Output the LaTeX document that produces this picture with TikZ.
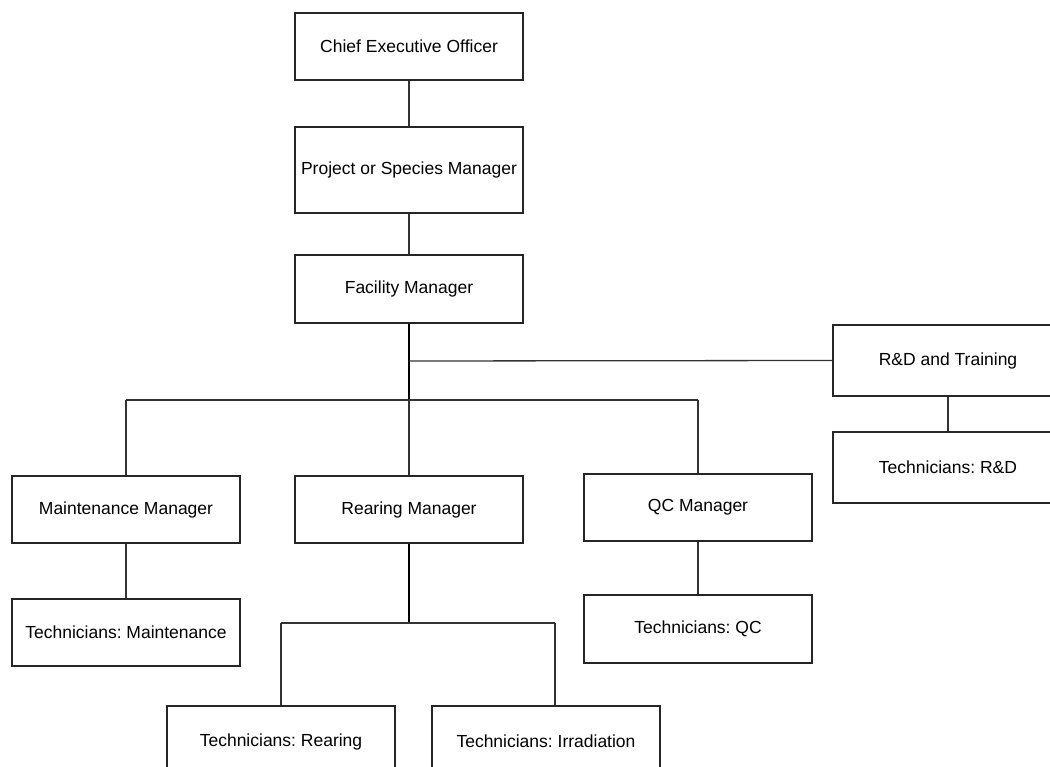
\documentclass[tikz,border=0pt]{standalone}
\usepackage{fontspec}
\setmainfont{Liberation Sans}
\frenchspacing
\begin{document}
\begin{tikzpicture}[x=1pt,y=-1pt,
  box/.style={draw=black!85, line width=1.3pt, fill=white, minimum width=228pt, inner sep=0pt,
    font=\fontsize{17.5}{20}\selectfont},
  conn/.style={draw=black!80, line width=1.3pt},
  thick conn/.style={draw=black, line width=2.6pt}]
\useasboundingbox (0,0) rectangle (1050,767);
\clip (0,0) rectangle (1050,767);
\fill[white] (0,0) rectangle (1050,767);
% nodes
\node[box, minimum height=67pt] (ceo) at (409,46.5) {Chief Executive Officer};
\node[box, minimum height=86pt] (psm) at (409,170) {Project or Species Manager};
\node[box, minimum height=68pt] (fac) at (409,289) {Facility Manager};
\node[box, minimum height=71pt, minimum width=230pt] (rd) at (948,360.5) {R\&D and Training};
\node[box, minimum height=71pt, minimum width=230pt] (trd) at (948,467.5) {Technicians: R\&D};
\node[box, minimum height=67pt] (mm) at (126,509.5) {Maintenance Manager};
\node[box, minimum height=67pt] (rm) at (409,509.5) {Rearing Manager};
\node[box, minimum height=67pt] (qc) at (698,507.5) {QC Manager};
\node[box, minimum height=67pt] (tm) at (126,632.5) {Technicians: Maintenance};
\node[box, minimum height=68pt] (tqc) at (698,629) {Technicians: QC};
\node[box, minimum height=71pt] (tr) at (281,741.5) {Technicians: Rearing};
\node[box, minimum height=71pt] (ti) at (546,741.5) {Technicians: Irradiation};
% junction coordinates
\coordinate (jrd) at (409,361);
\coordinate (jb) at (409,400);
\coordinate (jl) at (126,400);
\coordinate (jr) at (698,400);
\coordinate (kb) at (409,623);
\coordinate (kl) at (281,623);
\coordinate (kr) at (555,623);
% connectors
\draw[conn] (ceo.south) -- (psm.north);
\draw[conn] (psm.south) -- (fac.north);
\draw[thick conn] (fac.south) -- (jb);
\draw[conn] (jrd) -- (rd.west);
\draw[conn] (jl) -- (jr);
\draw[conn] (jl) -- (mm.north);
\draw[conn] (jb) -- (rm.north);
\draw[conn] (jr) -- (qc.north);
\draw[conn] (rd.south) -- (trd.north);
\draw[conn] (mm.south) -- (tm.north);
\draw[conn] (qc.south) -- (tqc.north);
\draw[thick conn] (rm.south) -- (kb);
\draw[conn] (kl) -- (kr);
\draw[conn] (kl) -- (kl |- tr.north);
\draw[conn] (kr) -- (kr |- ti.north);
\end{tikzpicture}
\end{document}
